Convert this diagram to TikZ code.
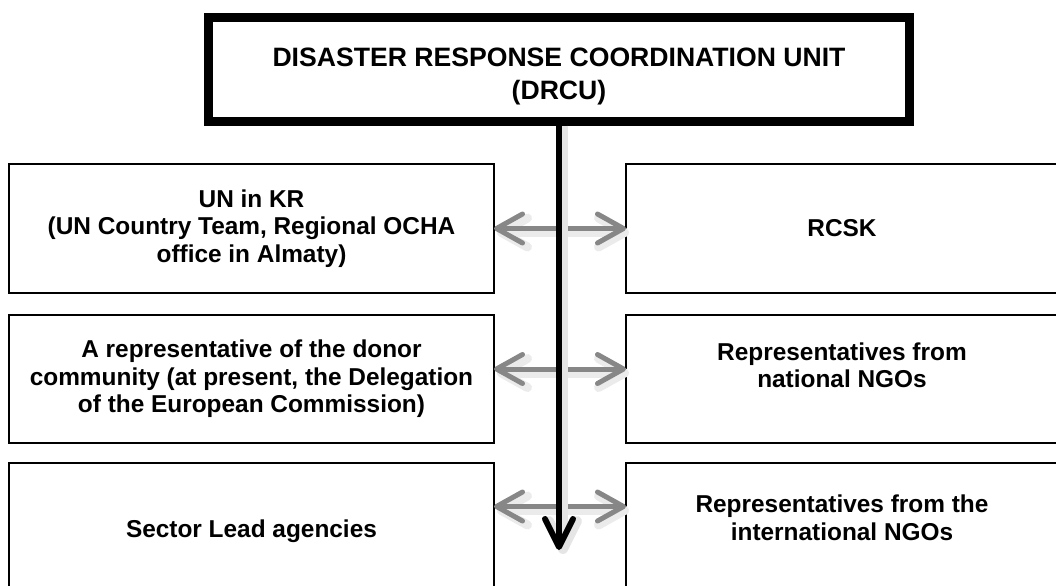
\documentclass[tikz,border=0pt]{standalone}
\usepackage{fontspec}
\setmainfont{Liberation Sans}
\usetikzlibrary{arrows.meta}

\begin{document}
\begin{tikzpicture}[x=0.5pt,y=-0.5pt,
every node/.style={draw,rectangle,align=center,inner sep=0pt,outer sep=0pt,line width=1pt,font=\bfseries\fontsize{12.2}{13.75}\selectfont},
leftbox/.style={minimum width=242.5pt},
rightbox/.style={minimum width=216pt},
unitbox/.style={line width=4.5pt,minimum width=350.5pt,minimum height=52pt,font=\bfseries\fontsize{13.3}{16.5}\selectfont},
link/.style={<->,>={Straight Barb[length=13pt,width=14.5pt,round]},draw=black!47,line width=2.5pt,
  preaction={draw=black!8,line width=4.5pt,transform canvas={shift={(1.5pt,-2pt)}}}},
flow/.style={->,>={Straight Barb[length=14pt,width=14pt,round]},line width=3pt,
  preaction={draw=black!10,line width=5pt,transform canvas={shift={(2pt,-2pt)}}}}
]
\useasboundingbox (0,0) rectangle (1056,585);
\clip (0,0) rectangle (1056,585);
%top unit
\node [unitbox] (drcu) at (559,69.5) {\rule{0pt}{15.8pt}DISASTER RESPONSE COORDINATION UNIT\\(DRCU)};
%left column
\node [leftbox,minimum height=64.5pt] (unkr) at (251.5,228.5) {UN in KR\\(UN Country Team, Regional OCHA\\office in Almaty)};
\node [leftbox,minimum height=64pt] (donor) at (251.5,379) {A representative of the donor\\community (at present, the Delegation\\of the European Commission)};
\node [leftbox,minimum height=68.5pt] (sector) at (251.5,531.5) {Sector Lead agencies};
%right column
\node [rightbox,minimum height=64.5pt] (rcsk) at (842,228.5) {RCSK};
\node [rightbox,minimum height=64pt] (natngo) at (842,379) {Representatives from\\national NGOs\\\mbox{}};
\node [rightbox,minimum height=68.5pt] (intngo) at (842,531.5) {Representatives from the\\international NGOs\\\mbox{}};
\coordinate (tip) at (559,550);

\draw[link] (unkr.east) -- (rcsk.west);
\draw[link] ([yshift=5pt]donor.east) -- ([yshift=5pt]natngo.west);
\draw[link] ([yshift=12.5pt]sector.east) -- ([yshift=12.5pt]intngo.west);
\draw[flow] (drcu.south) -- (tip);

\end{tikzpicture}
\end{document}
